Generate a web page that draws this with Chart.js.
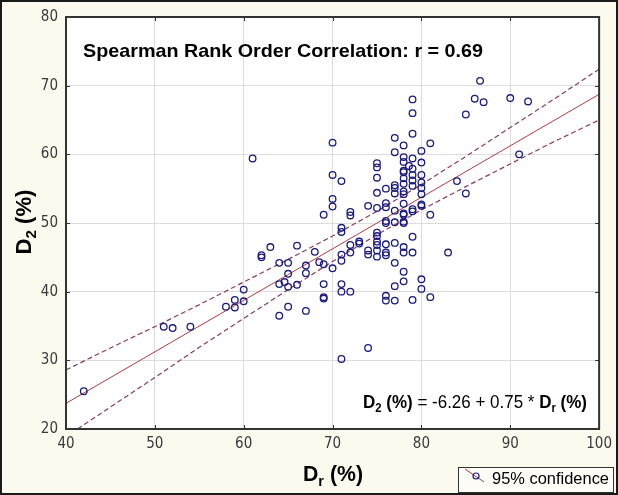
<!DOCTYPE html>
<html>
<head>
<meta charset="utf-8">
<script src="https://cdn.jsdelivr.net/npm/chart.js@4.4.1/dist/chart.umd.min.js"></script>
<style>
  html, body { margin: 0; padding: 0; background: #fcf9ee; }
  canvas { display: block; }
</style>
</head>
<body>
<canvas id="myChart" width="618" height="495"></canvas>
<script>
// data block
var drValues = [
    42, 51, 52, 54, 58, 59, 59, 60, 60, 61,
    62, 62, 63, 64, 64, 64, 64.6, 65, 65, 65, 65,
    66, 66, 67, 67, 67, 68, 68.5,
    69, 69, 69, 69, 69,
    70, 70, 70, 70, 70,
    71, 71, 71, 71, 71, 71, 71, 71,
    72, 72, 72, 72, 72,
    73, 73, 74, 74, 74, 74,
    75, 75, 75, 75, 75, 75, 75, 75, 75, 75, 75,
    76, 76, 76, 76, 76, 76, 76, 76, 76, 76,
    77, 77, 77, 77, 77, 77, 77, 77, 77, 77, 77,
    78, 78, 78, 78, 78, 78, 78, 78, 78, 78, 78, 78, 78, 78, 78, 78, 78, 78,
    78.6,
    79, 79, 79, 79, 79, 79, 79, 79, 79, 79, 79, 79, 79,
    80, 80, 80, 80, 80, 80, 80, 80, 80, 80,
    81, 81, 81,
    83, 84, 85, 85, 86, 86.6, 87, 90, 91, 92
];
var d2Values = [
    25.5, 34.9, 34.7, 34.9, 37.8, 38.8, 37.7, 40.3, 38.6, 59.4,
    45.3, 45.0, 46.5, 44.2, 41.1, 36.5, 41.4, 44.2, 42.6, 40.7, 37.8,
    46.7, 41.0, 43.8, 42.7, 37.2, 45.8, 44.3,
    51.2, 44.0, 41.1, 39.2, 39.0,
    61.7, 57.0, 53.5, 52.4, 43.4,
    56.1, 49.3, 48.7, 45.4, 44.5, 41.1, 40.0, 30.2,
    51.6, 51.1, 46.8, 45.7, 40.0,
    47.3, 47.0, 52.5, 46.0, 45.4, 31.8,
    58.7, 58.1, 56.6, 54.4, 52.2, 48.6, 48.1, 47.3, 46.8, 46.0, 45.1,
    55.0, 52.9, 52.3, 50.3, 50.0, 46.9, 45.7, 45.3, 39.4, 38.7,
    62.4, 60.3, 55.5, 55.1, 54.3, 51.8, 50.1, 47.1, 44.2, 40.8, 38.7,
    61.3, 59.6, 58.9, 57.6, 57.4, 56.5, 55.7, 54.6, 54.2, 52.8, 51.4, 51.2, 50.2, 50.0, 46.5, 45.7, 42.9, 41.5,
    58.3,
    68.0, 66.0, 63.0, 59.4, 57.9, 57.0, 56.2, 55.4, 52.0, 51.7, 48.0, 45.7, 38.8,
    60.5, 58.8, 57.0, 55.9, 55.1, 54.2, 52.7, 52.5, 41.8, 40.4,
    61.6, 51.2, 39.2,
    45.7, 56.1, 65.8, 54.3, 68.1, 70.7, 67.6, 68.2, 60.0, 67.7
];

// fitted line  D2 = -6.26 + 0.75 * Dr
var fitX = [40, 100];
var fitY = [23.74, 68.74];

// 95% confidence band, read at steps along Dr
var bandX = [40, 45, 50, 55, 60, 65, 70, 75, 80, 85, 90, 95, 100];
var upperY = [28.6, 31.8, 34.9, 38.1, 41.4, 44.7, 48.1, 51.7, 55.6, 59.7, 63.9, 68.1, 72.4];
var lowerX = [41.3, 45, 50, 55, 60, 65, 70, 75, 80, 85, 90, 95, 100];
var lowerY = [20.0, 23.2, 27.5, 31.9, 36.1, 40.3, 44.4, 48.3, 51.9, 55.3, 58.6, 61.9, 65.0];

var xTicks = [40, 50, 60, 70, 80, 90, 100];
var yTicks = [20, 30, 40, 50, 60, 70, 80];

function pairs(xs, ys) {
    return xs.map(function (x, i) { return { x: x, y: ys[i] }; });
}

var tickFont = "'Liberation Sans Narrow', 'DejaVu Sans Condensed', 'Liberation Sans', Arial, sans-serif";
var textFont = "'Liberation Sans', Arial, sans-serif";

// draws text pieces (for subscripts), squeezed to a given width
function drawPieces(ctx, pieces, x, y, width, align) {
    var total = 0;
    pieces.forEach(function (p) { ctx.font = p.font; total += ctx.measureText(p.t).width; });
    var sx = width ? width / total : 1;
    var start = align === 'right' ? x - total * sx : (align === 'center' ? x - total * sx / 2 : x);
    ctx.save();
    ctx.translate(start, y);
    ctx.scale(sx, 1);
    var cx = 0;
    pieces.forEach(function (p) {
        ctx.font = p.font;
        ctx.fillText(p.t, cx, p.dy || 0);
        cx += ctx.measureText(p.t).width;
    });
    ctx.restore();
}

var framePlugin = {
    id: 'frame',
    beforeDraw: function (chart) {
        var ctx = chart.ctx, a = chart.chartArea;
        ctx.save();
        ctx.fillStyle = '#fcf9ee';
        ctx.fillRect(0, 0, chart.width, chart.height);
        ctx.fillStyle = '#ffffff';
        ctx.fillRect(a.left, a.top, a.right - a.left, a.bottom - a.top);
        ctx.restore();
    },
    afterDraw: function (chart) {
        var ctx = chart.ctx, a = chart.chartArea;
        var xs = chart.scales.x, ys = chart.scales.y;
        ctx.save();
        // plot box
        ctx.strokeStyle = '#333333';
        ctx.lineWidth = 2;
        ctx.strokeRect(a.left, a.top, a.right - a.left, a.bottom - a.top);
        // inside ticks
        ctx.lineWidth = 1;
        ctx.beginPath();
        xTicks.forEach(function (v) {
            var px = Math.round(xs.getPixelForValue(v)) + 0.5;
            ctx.moveTo(px, a.bottom); ctx.lineTo(px, a.bottom - 4);
            ctx.moveTo(px, a.top); ctx.lineTo(px, a.top + 4);
        });
        yTicks.forEach(function (v) {
            var py = Math.round(ys.getPixelForValue(v)) + 0.5;
            ctx.moveTo(a.left, py); ctx.lineTo(a.left + 4, py);
            ctx.moveTo(a.right, py); ctx.lineTo(a.right - 4, py);
        });
        ctx.stroke();

        ctx.fillStyle = '#000';
        ctx.textBaseline = 'alphabetic';
        // correlation note
        drawPieces(ctx, [{ t: 'Spearman Rank Order Correlation: r = 0.69', font: 'bold 19px ' + textFont }], 83, 57, 400, 'left');
        // equation
        var b = 'bold 18px ' + textFont, n = '18px ' + textFont, s = 'bold 12px ' + textFont;
        drawPieces(ctx, [
            { t: 'D', font: b }, { t: '2', font: s, dy: 4 }, { t: ' (%)', font: b },
            { t: ' = -6.26 + 0.75 * ', font: n },
            { t: 'D', font: b }, { t: 'r', font: s, dy: 4 }, { t: ' (%)', font: b }
        ], 587, 408, 224, 'right');
        // axis titles
        var tb = 'bold 22px ' + textFont, ts = 'bold 15px ' + textFont;
        drawPieces(ctx, [{ t: 'D', font: tb }, { t: 'r', font: ts, dy: 5 }, { t: ' (%)', font: tb }], 333, 481, 60, 'center');
        ctx.save();
        ctx.translate(31, 222);
        ctx.rotate(-Math.PI / 2);
        drawPieces(ctx, [{ t: 'D', font: tb }, { t: '2', font: ts, dy: 5 }, { t: ' (%)', font: tb }], 0, 0, 65, 'center');
        ctx.restore();

        // legend box
        ctx.fillStyle = '#fdfcf7';
        ctx.fillRect(458.5, 467.5, 155, 25);
        ctx.strokeStyle = '#333';
        ctx.lineWidth = 1;
        ctx.strokeRect(458.5, 467.5, 155, 25);
        ctx.strokeStyle = '#b03a48';
        ctx.beginPath();
        ctx.moveTo(465, 469); ctx.lineTo(484, 482);
        ctx.stroke();
        ctx.strokeStyle = '#1c1c78';
        ctx.lineWidth = 1.2;
        ctx.beginPath();
        ctx.arc(476, 476, 3, 0, Math.PI * 2);
        ctx.stroke();
        ctx.fillStyle = '#000';
        drawPieces(ctx, [{ t: '95% confidence', font: '17px ' + textFont }], 492, 484, 117, 'left');

        // outer border
        ctx.strokeStyle = '#1a1a1a';
        ctx.lineWidth = 2;
        ctx.strokeRect(1, 1, chart.width - 2, chart.height - 2);
        ctx.restore();
    }
};

var myCrt = document.getElementById('myChart');
var scatterChart = new Chart(myCrt, {
    type: 'scatter',
    data: {
        datasets: [{
            label: 'points',
            data: pairs(drValues, d2Values),
            pointStyle: 'circle',
            pointRadius: 3.3,
            pointBorderWidth: 1.3,
            borderColor: '#1c1c78',
            backgroundColor: 'rgba(0,0,0,0)',
            order: 0
        }, {
            label: 'fit',
            data: pairs(fitX, fitY),
            showLine: true,
            pointRadius: 0,
            borderColor: '#b03a48',
            borderWidth: 1,
            order: 1
        }, {
            label: 'upper',
            data: pairs(bandX, upperY),
            showLine: true,
            pointRadius: 0,
            borderColor: '#8a3a5e',
            borderWidth: 1.2,
            borderDash: [5, 3],
            order: 2
        }, {
            label: 'lower',
            data: pairs(lowerX, lowerY),
            showLine: true,
            pointRadius: 0,
            borderColor: '#8a3a5e',
            borderWidth: 1.2,
            borderDash: [5, 3],
            order: 2
        }]
    },
    options: {
        responsive: false,
        animation: false,
        devicePixelRatio: 1,
        layout: { padding: { left: 0, right: 18, top: 14, bottom: 0 } },
        plugins: {
            legend: { display: false },
            tooltip: { enabled: false }
        },
        scales: {
            x: {
                type: 'linear',
                min: 40,
                max: 100,
                afterFit: function (s) { s.height = 66; },
                afterBuildTicks: function (s) { s.ticks = xTicks.map(function (v) { return { value: v }; }); },
                grid: { color: '#dcdcdc', drawTicks: false },
                border: { display: false },
                ticks: { padding: 6, color: '#3a3a3a', font: { family: tickFont, size: 15 } }
            },
            y: {
                type: 'linear',
                min: 20,
                max: 80,
                afterFit: function (s) { s.width = 66; },
                afterBuildTicks: function (s) { s.ticks = yTicks.map(function (v) { return { value: v }; }); },
                grid: { color: '#dcdcdc', drawTicks: false },
                border: { display: false },
                ticks: { padding: 8, color: '#3a3a3a', font: { family: tickFont, size: 15 } }
            }
        }
    },
    plugins: [framePlugin]
});
</script>
</body>
</html>
